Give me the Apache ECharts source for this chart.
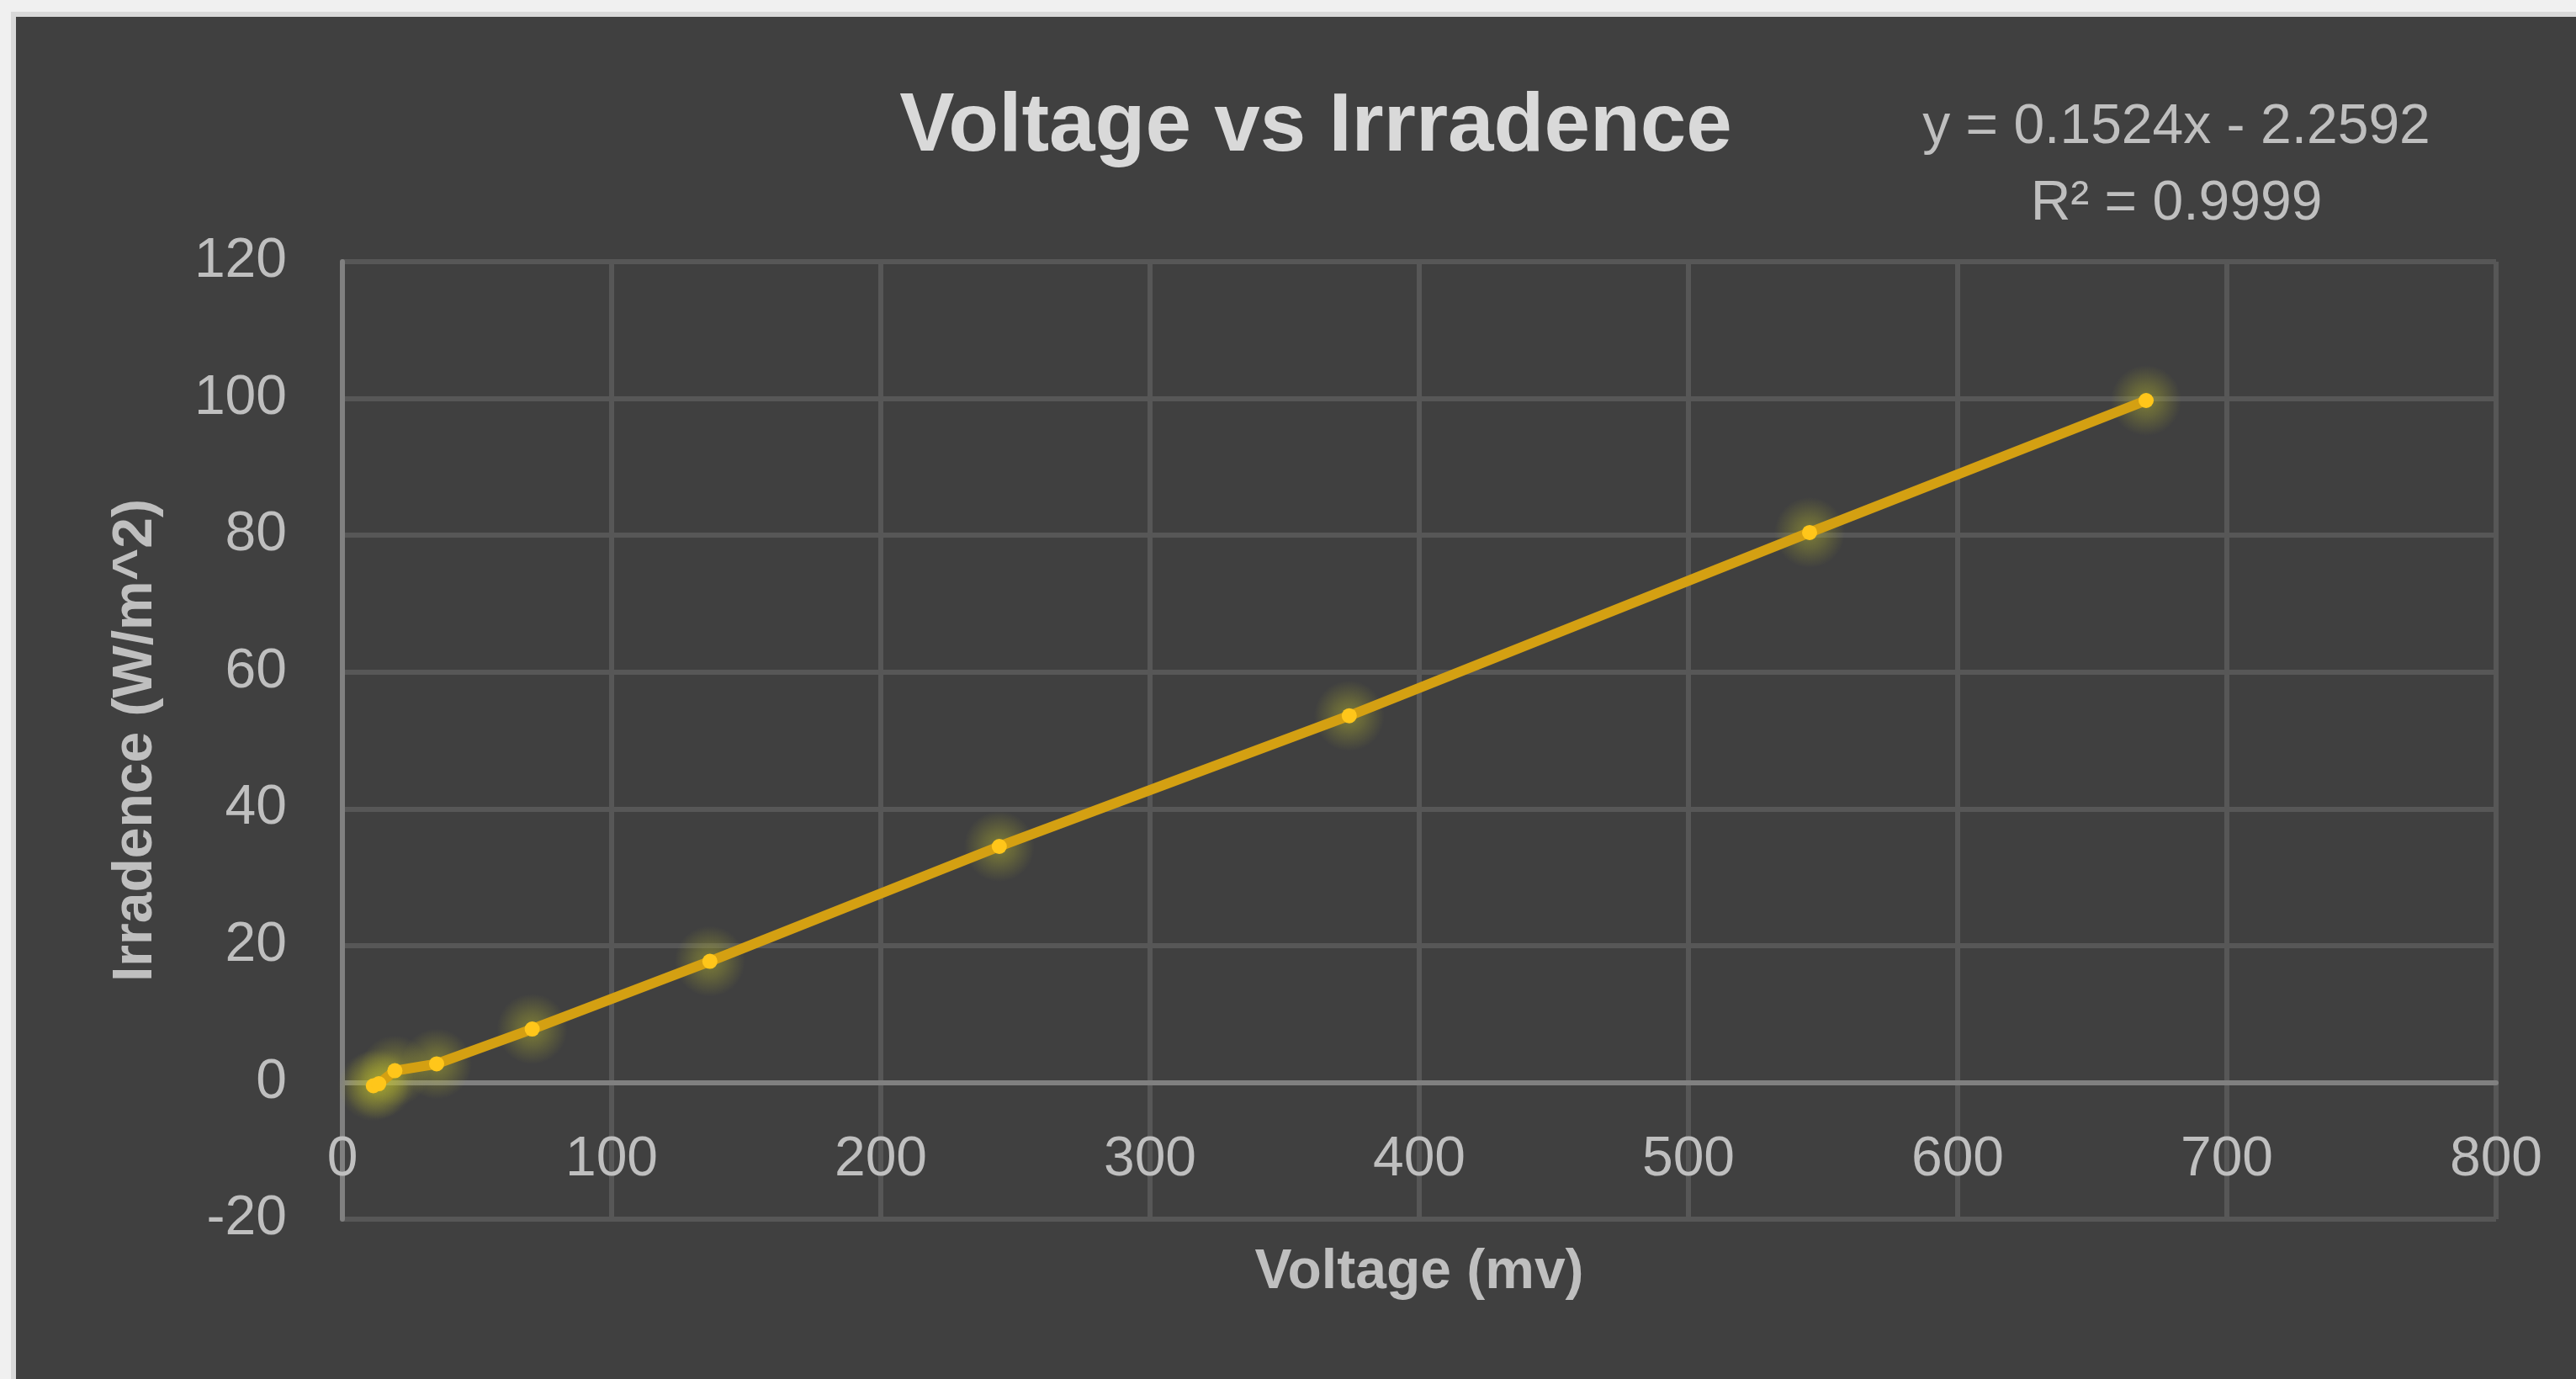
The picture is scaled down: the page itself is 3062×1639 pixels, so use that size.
<!DOCTYPE html>
<html>
<head>
<meta charset="utf-8">
<script src="https://cdn.jsdelivr.net/npm/echarts@6/dist/echarts.min.js"></script>
<style>
  html, body { margin: 0; padding: 0; background: #f0f0f0; width: 3062px; height: 1639px; overflow: hidden; }
  #frame { position: absolute; left: 13px; top: 14px; border-left: 6px solid #d9d9d9; border-top: 6px solid #d9d9d9; }
  #chart { width: 3043px; height: 1619px; background: #404040; }
</style>
</head>
<body>
<div id="frame"><div id="chart"></div></div>
<script>
// Data
const voltage = [11.5, 13.5, 19.5, 35, 70.5, 136.5, 244, 374, 545, 670];
const irradiance = [-0.5, -0.2, 1.7, 2.7, 7.8, 17.7, 34.5, 53.6, 80.4, 99.7];
const titleText = 'Voltage vs Irrradence';
const xTitle = 'Voltage (mv)';
const yTitle = 'Irradence (W/m^2)';
const equationLines = ['y = 0.1524x - 2.2592', 'R² = 0.9999'];
const xRange = [0, 800, 100];
const yRange = [-20, 120, 20];

const points = voltage.map((v, i) => [v, irradiance[i]]);
const FONT = '"Liberation Sans", Arial, sans-serif';

const glowFill = new echarts.graphic.RadialGradient(0.5, 0.5, 0.5, [
  { offset: 0, color: 'rgba(205,205,45,0.55)' },
  { offset: 0.45, color: 'rgba(190,190,45,0.35)' },
  { offset: 1, color: 'rgba(180,180,45,0)' }
]);

const chart = echarts.init(document.getElementById('chart'), null, { renderer: 'canvas' });
chart.setOption({
  backgroundColor: '#404040',
  animation: false,
  title: {
    text: titleText,
    left: 1540,
    top: 78,
    textAlign: 'center',
    textStyle: { color: '#d9d9d9', fontFamily: FONT, fontWeight: 'bold', fontSize: 98 }
  },
  graphic: [
    { type: 'text', x: 2568, y: 132, style: { text: equationLines[0], fill: '#bfbfbf', font: '66px ' + FONT, align: 'center', verticalAlign: 'middle' } },
    { type: 'text', x: 2568, y: 223, style: { text: equationLines[1], fill: '#bfbfbf', font: '66px ' + FONT, align: 'center', verticalAlign: 'middle' } }
  ],
  grid: { left: 388, right: 95, top: 291, bottom: 190, containLabel: false, outerBoundsMode: 'none' },
  xAxis: {
    type: 'value',
    position: 'bottom',
    offset: -162,
    min: xRange[0], max: xRange[1], interval: xRange[2],
    name: xTitle,
    nameLocation: 'middle',
    nameGap: 193,
    nameMoveOverlap: false,
    nameTextStyle: { color: '#bfbfbf', fontFamily: FONT, fontWeight: 'bold', fontSize: 66 },
    axisLine: { show: true, onZero: false, lineStyle: { color: '#808080', width: 6 } },
    axisTick: { show: false },
    axisLabel: { color: '#bfbfbf', fontFamily: FONT, fontSize: 66, margin: 59 },
    splitLine: { show: true, lineStyle: { color: '#575757', width: 6 } }
  },
  yAxis: {
    type: 'value',
    min: yRange[0], max: yRange[1], interval: yRange[2],
    name: yTitle,
    nameLocation: 'middle',
    nameRotate: 90,
    nameGap: 212,
    nameMoveOverlap: false,
    nameTextStyle: { color: '#bfbfbf', fontFamily: FONT, fontWeight: 'bold', fontSize: 66 },
    axisLine: { show: true, onZero: false, lineStyle: { color: '#808080', width: 6 } },
    axisTick: { show: false },
    axisLabel: { color: '#bfbfbf', fontFamily: FONT, fontSize: 66, margin: 66 },
    splitLine: { show: true, lineStyle: { color: '#575757', width: 6 } }
  },
  series: [
    {
      type: 'scatter',
      data: points,
      symbol: 'circle',
      symbolSize: 84,
      itemStyle: { color: glowFill },
      silent: true,
      z: 2
    },
    {
      type: 'line',
      data: points,
      showSymbol: true,
      symbol: 'circle',
      symbolSize: 18,
      lineStyle: { color: '#d4a012', width: 12 },
      itemStyle: { color: '#ffc61a' },
      z: 3
    }
  ]
});
</script>
</body>
</html>
